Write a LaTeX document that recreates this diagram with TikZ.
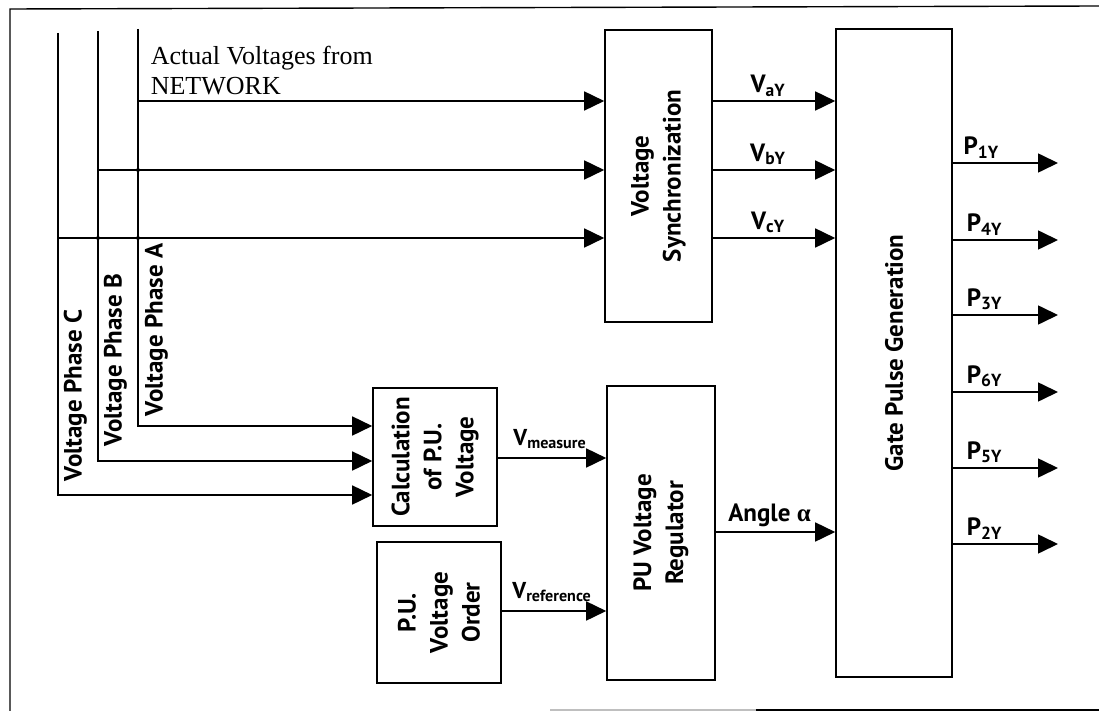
\documentclass[tikz,border=0pt]{standalone}
\usepackage{fontspec}
\setmainfont{Liberation Serif}
\newfontfamily\gill{PT Sans}
\usetikzlibrary{arrows.meta}
\begin{document}
\begin{tikzpicture}[x=1pt,y=-1pt,line width=1.6pt,
  arr/.style={-{Triangle[length=20pt,width=19pt]}},
  box/.style={draw,line width=1.6pt,inner sep=0pt},
  vtext/.style={rotate=90,align=center,inner sep=0pt,font=\gill\bfseries\fontsize{25}{32}\selectfont},
  lab/.style={font=\gill\bfseries\fontsize{25}{28}\selectfont,inner sep=4pt},
  slab/.style={font=\gill\bfseries\fontsize{23}{28}\selectfont,inner sep=8pt},
  phlab/.style={rotate=90,anchor=north west,inner sep=0pt,font=\gill\bfseries\fontsize{25}{28}\selectfont},
  jdot/.style={fill,circle,inner sep=0pt,minimum size=4pt}]
\useasboundingbox (0,0) rectangle (1099,711);
% frame
\draw[line width=1.4pt] (10,711) -- (10,9) -- (1099,6);
\draw[line width=1.4pt,gray!50] (550,710) -- (756,710);
\draw[line width=1.4pt] (756,710) -- (1099,710);
% blocks
\node[box,minimum width=107pt,minimum height=292pt] (sync) at (658.5,176) {};
\node[vtext] (synct) at (sync) {Voltage\\Synchronization};
\node[box,minimum width=116pt,minimum height=648pt] (gate) at (894,353) {};
\node[vtext] (gatet) at (gate) {Gate Pulse Generation};
\node[box,minimum width=124pt,minimum height=138pt] (calc) at (435,457) {};
\node[vtext] (calct) at (calc) {Calculation\\of P.U.\\Voltage};
\node[box,minimum width=124pt,minimum height=141pt] (order) at (439,612.5) {};
\node[vtext] (ordert) at (order) {P.U.\\Voltage\\Order};
\node[box,minimum width=108pt,minimum height=294pt] (reg) at (661,533) {};
\node[vtext] (regt) at (reg) {PU Voltage\\Regulator};
% network label
\node[anchor=base west,align=left,inner sep=0pt,font=\fontsize{26}{30}\selectfont] (net) at (150,95) {Actual Voltages from\\NETWORK};
% coordinates
\coordinate (cA) at (138,29);
\coordinate (cB) at (98,31);
\coordinate (cC) at (58,33);
\coordinate (ys1) at (0,101);
\coordinate (ys2) at (0,170);
\coordinate (ys3) at (0,238);
\coordinate (yA) at (0,426);
\coordinate (yB) at (0,461);
\coordinate (yC) at (0,495);
% phase lines
\draw[arr] (cA) |- (calc.west |- yA);
\draw[arr] (cB) |- (calc.west |- yB);
\draw[arr] (cC) |- (calc.west |- yC);
\draw[arr] (cA |- ys1) -- (sync.west |- ys1);
\draw[arr] (cB |- ys2) -- (sync.west |- ys2);
\draw[arr] (cC |- ys3) -- (sync.west |- ys3);
\node[jdot] (j1) at (cA |- ys2) {};
\node[jdot] (j2) at (cA |- ys3) {};
\node[jdot] (j3) at (cB |- ys3) {};
% phase labels
\node[phlab] (lC) at (63,482) {Voltage Phase C};
\node[phlab] (lB) at (103,447) {Voltage Phase B};
\node[phlab] (lA) at (144,417) {Voltage Phase A};
% sync to gate
\draw[arr] (sync.east |- ys1) -- node[lab,above,pos=0.45] (la) {V\textsubscript{aY}} (gate.west |- ys1);
\draw[arr] (sync.east |- ys2) -- node[lab,above,pos=0.45] (lb) {V\textsubscript{bY}} (gate.west |- ys2);
\draw[arr] (sync.east |- ys3) -- node[lab,above,pos=0.45] (lc) {V\textsubscript{cY}} (gate.west |- ys3);
% calc, order to reg
\draw[arr] (calc.east |- 0,458) -- node[slab,above,pos=0.48] (lm) {V\textsubscript{measure}} (reg.west |- 0,458);
\draw[arr] (order.east |- 0,611) -- node[slab,above,pos=0.48] (lr) {V\textsubscript{reference}} (reg.west |- 0,611);
\draw[arr] (reg.east |- 0,532) -- node[lab,above,pos=0.45] (lang) {Angle {\rmfamily α}} (gate.west |- 0,532);
% outputs
\coordinate (p1) at (1058,163);
\coordinate (p4) at (1058,240);
\coordinate (p3) at (1058,315);
\coordinate (p6) at (1058,392);
\coordinate (p5) at (1058,468);
\coordinate (p2) at (1058,544);
\draw[arr] (gate.east |- p1) -- node[lab,above,pos=0.27] (l1) {P\textsubscript{1Y}} (p1);
\draw[arr] (gate.east |- p4) -- node[lab,above,pos=0.3] (l4) {P\textsubscript{4Y}} (p4);
\draw[arr] (gate.east |- p3) -- node[lab,above,pos=0.3] (l3) {P\textsubscript{3Y}} (p3);
\draw[arr] (gate.east |- p6) -- node[lab,above,pos=0.3] (l6) {P\textsubscript{6Y}} (p6);
\draw[arr] (gate.east |- p5) -- node[lab,above,pos=0.3] (l5) {P\textsubscript{5Y}} (p5);
\draw[arr] (gate.east |- p2) -- node[lab,above,pos=0.3] (l2) {P\textsubscript{2Y}} (p2);
\end{tikzpicture}
\end{document}
